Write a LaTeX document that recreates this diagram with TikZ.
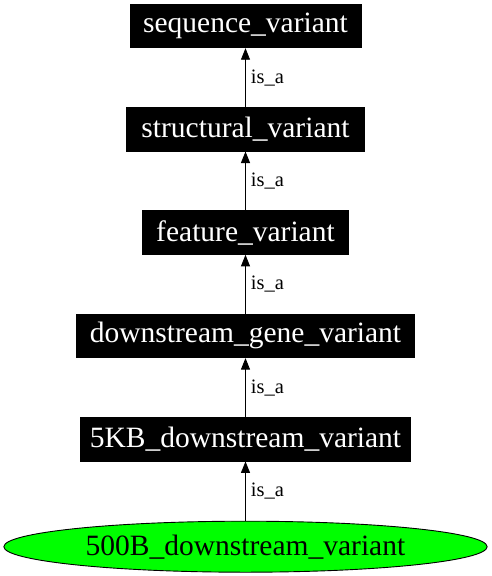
\documentclass[tikz,border=0pt]{standalone}
\usepackage{fontspec}
\setmainfont{Liberation Serif}
\usetikzlibrary{arrows.meta, positioning, shapes.geometric}

\begin{document}
\begin{tikzpicture}[x=1pt, y=1pt, >={Triangle[length=11.5pt, width=9pt]}, auto=right, node distance=103.3pt, line width=0.9pt]
	\tikzstyle{every node}=[font=\fontsize{29.5}{34}\selectfont]
	\tikzstyle{term}=[draw=black, fill=black, text=white, minimum height=43.5pt, inner sep=0pt]
	\tikzstyle{leaf}=[ellipse, draw=black, fill=green, text=black, minimum width=483.3pt, minimum height=51pt, inner sep=0pt]
	\tikzstyle{rel}=[font=\fontsize{20.5}{24}\selectfont, inner xsep=5pt, inner ysep=0pt]

	\useasboundingbox (-245.5,26) rectangle (245.5,-550);

	\node[term, minimum width=231pt] (seq) at (0,0) {sequence\_variant};
	\node[term, minimum width=238pt] (struct) [below of=seq] {structural\_variant};
	\node[term, minimum width=206pt] (feat) [below of=struct] {feature\_variant};
	\node[term, minimum width=338pt] (dsgene) [below of=feat] {downstream\_gene\_variant};
	\node[term, minimum width=330pt] (ds5kb) [below of=dsgene] {5KB\_downstream\_variant};
	\node[leaf] (ds500b) [below of=ds5kb, node distance=107.5pt] {500B\_downstream\_variant};

	\path[->] (struct) edge node[rel] {is\_a} (seq);
	\path[->] (feat) edge node[rel] {is\_a} (struct);
	\path[->] (dsgene) edge node[rel] {is\_a} (feat);
	\path[->] (ds5kb) edge node[rel] {is\_a} (dsgene);
	\path[->] (ds500b) edge node[rel] {is\_a} (ds5kb);
\end{tikzpicture}
\end{document}
